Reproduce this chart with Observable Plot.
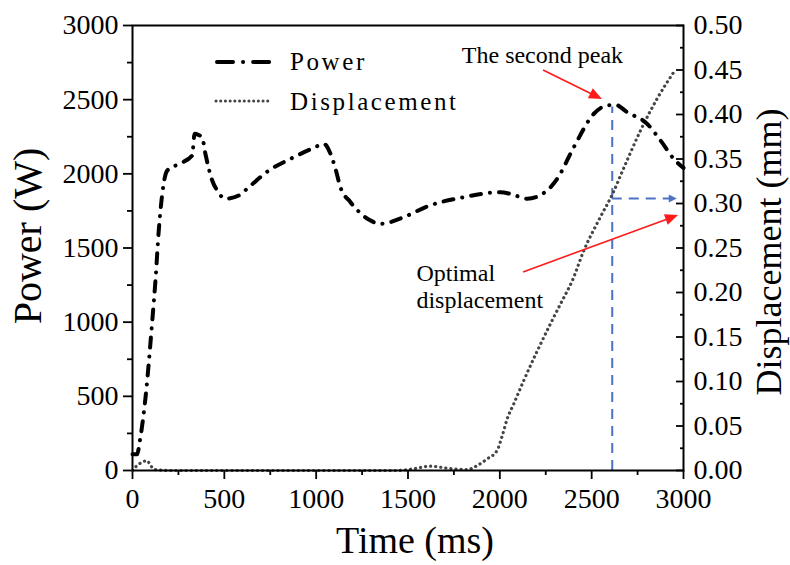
<!DOCTYPE html>
<html><head><meta charset="utf-8">
<script src="https://cdn.jsdelivr.net/npm/d3@7"></script>
<script src="https://cdn.jsdelivr.net/npm/@observablehq/plot@0.6"></script>
<style>body{margin:0;background:#fff}#chart{width:790px;height:565px}</style>
</head><body><div id="chart"></div>
<script>
// ---- data ----
const powerTime = [0, 25, 40, 71, 107, 125, 143, 162, 189, 260, 325, 338, 360, 379, 397, 434, 461, 506, 579, 633, 742, 860, 987, 1042, 1078, 1105, 1132, 1187, 1296, 1350, 1477, 1604, 1804, 2004, 2058, 2149, 2258, 2312, 2403, 2512, 2584, 2630, 2693, 2802, 2875, 2947, 3000];
const powerW    = [110, 110, 200, 494, 1000, 1281, 1618, 1865, 2022, 2070, 2124, 2270, 2262, 2247, 2135, 1955, 1888, 1832, 1854, 1910, 2022, 2101, 2175, 2202, 2135, 2034, 1910, 1809, 1685, 1663, 1708, 1780, 1843, 1876, 1865, 1832, 1888, 1966, 2180, 2405, 2461, 2465, 2416, 2337, 2225, 2101, 2040];
const dispTime = [0, 25, 53, 80, 98, 125, 200, 1000, 1450, 1532, 1622, 1713, 1822, 1877, 1931, 1985, 2013, 2040, 2076, 2130, 2276, 2340, 2394, 2457, 2548, 2612, 2675, 2766, 2857, 2955];
const dispMM   = [0, 0.0056, 0.0094, 0.011, 0.0056, 0.001, 0, 0, 0, 0.002, 0.0049, 0.0026, 0.001, 0.0056, 0.013, 0.0225, 0.039, 0.058, 0.075, 0.101, 0.165, 0.191, 0.213, 0.247, 0.285, 0.31, 0.34, 0.382, 0.418, 0.45];
const xTicks  = [0, 500, 1000, 1500, 2000, 2500, 3000];
const xMinor  = [250, 750, 1250, 1750, 2250, 2750];
const yTicks  = [0, 500, 1000, 1500, 2000, 2500, 3000];
const yMinor  = [250, 750, 1250, 1750, 2250, 2750];
const y2Ticks = [0, 0.05, 0.10, 0.15, 0.20, 0.25, 0.30, 0.35, 0.40, 0.45, 0.50];
const y2Minor = [0.025, 0.075, 0.125, 0.175, 0.225, 0.275, 0.325, 0.375, 0.425, 0.475];
const seriesNames = ["Power", "Displacement"];
const axisTitles = {x: "Time (ms)", y: "Power (W)", y2: "Displacement (mm)"};
// annotations (data coordinates)
const peakTime = 2612, peakPower = 2450, optimalDisp = 0.305, optimalArrowEnd = 2966;
const peakLabel = {text: "The second peak", t: 2232, p: 2802};
const peakArrow = {t1: 2238, p1: 2697, t2: 2559, p2: 2501};
const optLabel = [{text: "Optimal", t: 1546, p: 1326}, {text: "displacement", t: 1546, p: 1144}];
const optArrow = {t1: 2129, p1: 1335, t2: 2973, p2: 1719};

const K = 3000 / 0.5; // displacement (mm) -> left-axis units
const power = powerTime.map((t, i) => ({t, p: powerW[i]}));
const disp = dispTime.map((t, i) => ({t, d: dispMM[i] * K}));

const BLUE = "#4a73c6", RED = "#ff1a1a", GRAY = "#454545";

const plot = Plot.plot({
  width: 790, height: 565,
  marginLeft: 132, marginRight: 107, marginTop: 25, marginBottom: 95,
  style: {fontFamily: "'Liberation Serif', 'Times New Roman', serif", background: "white", color: "black"},
  x: {domain: [0, 3000]},
  y: {domain: [0, 3000]},
  marks: [
    Plot.axisX(xTicks, {tickSize: 9, tickPadding: 9, fontSize: 28, label: null, strokeWidth: 1.8, tickFormat: d => String(d)}),
    Plot.axisX(xMinor, {tickSize: 5, tickFormat: () => "", label: null, strokeWidth: 1.8}),
    Plot.axisY(yTicks, {anchor: "left", tickSize: 9, tickPadding: 5, fontSize: 28, label: null, strokeWidth: 1.8, tickFormat: d => String(d)}),
    Plot.axisY(yMinor, {anchor: "left", tickSize: 5, tickFormat: () => "", label: null, strokeWidth: 1.8}),
    Plot.axisY(y2Ticks.map(v => v * K), {anchor: "right", tickSize: -8, tickPadding: 18, fontSize: 28, label: null, strokeWidth: 1.8, tickFormat: d => (d / K).toFixed(2)}),
    Plot.axisY(y2Minor.map(v => v * K), {anchor: "right", tickSize: -4, tickFormat: () => "", label: null, strokeWidth: 1.8}),
    Plot.ruleX([peakTime], {y1: 0, y2: peakPower, stroke: BLUE, strokeWidth: 2, strokeDasharray: "10,7"}),
    Plot.line(disp, {x: "t", y: "d", stroke: GRAY, strokeWidth: 3.2, strokeDasharray: "0.1,5", strokeLinecap: "round", curve: "monotone-x"}),
    Plot.line(power, {x: "t", y: "p", stroke: "black", strokeWidth: 4, strokeDasharray: "10,9,0.1,9", strokeLinecap: "round", curve: "monotone-x"}),
    Plot.frame({stroke: "black", strokeWidth: 2}),
    Plot.text([peakLabel], {x: "t", y: "p", text: "text", fontSize: 24, textAnchor: "middle", lineAnchor: "middle"}),
    Plot.text(optLabel, {x: "t", y: "p", text: "text", fontSize: 24, textAnchor: "start", lineAnchor: "middle"}),
    Plot.text([axisTitles.y], {frameAnchor: "left", rotate: -90, dx: -104, dy: -12, fontSize: 40, textAnchor: "middle", lineAnchor: "middle"}),
    Plot.text([axisTitles.y2], {frameAnchor: "right", rotate: -90, dx: 86, dy: 4, fontSize: 36, textAnchor: "middle", lineAnchor: "middle"}),
    Plot.text([axisTitles.x], {frameAnchor: "bottom", dx: 7, dy: 70, fontSize: 38, textAnchor: "middle", lineAnchor: "middle"})
  ]
});
document.getElementById("chart").appendChild(plot);

// ---- arrows & legend drawn through the plot's scales ----
const sx = plot.scale("x"), sy = plot.scale("y");
const svg = d3.select(plot);
const g = svg.append("g");
function arrow(x1, y1, x2, y2, color, width, len, half, dash) {
  const dx = x2 - x1, dy = y2 - y1, L = Math.hypot(dx, dy), ux = dx / L, uy = dy / L;
  const bx = x2 - ux * len, by = y2 - uy * len;
  const ln = g.append("line").attr("x1", x1).attr("y1", y1).attr("x2", bx + ux).attr("y2", by + uy)
    .attr("stroke", color).attr("stroke-width", width);
  if (dash) ln.attr("stroke-dasharray", dash);
  g.append("path").attr("d", `M${x2},${y2}L${bx - uy * half},${by + ux * half}L${bx + uy * half},${by - ux * half}Z`).attr("fill", color);
}
arrow(sx.apply(peakArrow.t1), sy.apply(peakArrow.p1), sx.apply(peakArrow.t2), sy.apply(peakArrow.p2), RED, 1.6, 13, 5.5);
arrow(sx.apply(optArrow.t1), sy.apply(optArrow.p1), sx.apply(optArrow.t2), sy.apply(optArrow.p2), RED, 1.6, 13, 5.5);
arrow(sx.apply(peakTime), sy.apply(optimalDisp * K), sx.apply(optimalArrowEnd), sy.apply(optimalDisp * K), BLUE, 2, 8, 4, "10,7");

// legend
const lg = svg.append("g").attr("font-family", "'Liberation Serif', serif").attr("font-size", 25)
  .attr("letter-spacing", 2.6).attr("text-anchor", "start");
lg.append("line").attr("x1", 217).attr("x2", 271).attr("y1", 62).attr("y2", 62)
  .attr("stroke", "black").attr("stroke-width", 4).attr("stroke-linecap", "round").attr("stroke-dasharray", "16,10,0.1,10");
lg.append("line").attr("x1", 216).attr("x2", 272).attr("y1", 101).attr("y2", 101)
  .attr("stroke", GRAY).attr("stroke-width", 3).attr("stroke-linecap", "round").attr("stroke-dasharray", "0.1,4.6");
lg.append("text").attr("x", 290).attr("y", 70).attr("fill", "black").text(seriesNames[0]);
lg.append("text").attr("x", 290).attr("y", 110).attr("fill", "black").text(seriesNames[1]);
</script>
</body></html>
